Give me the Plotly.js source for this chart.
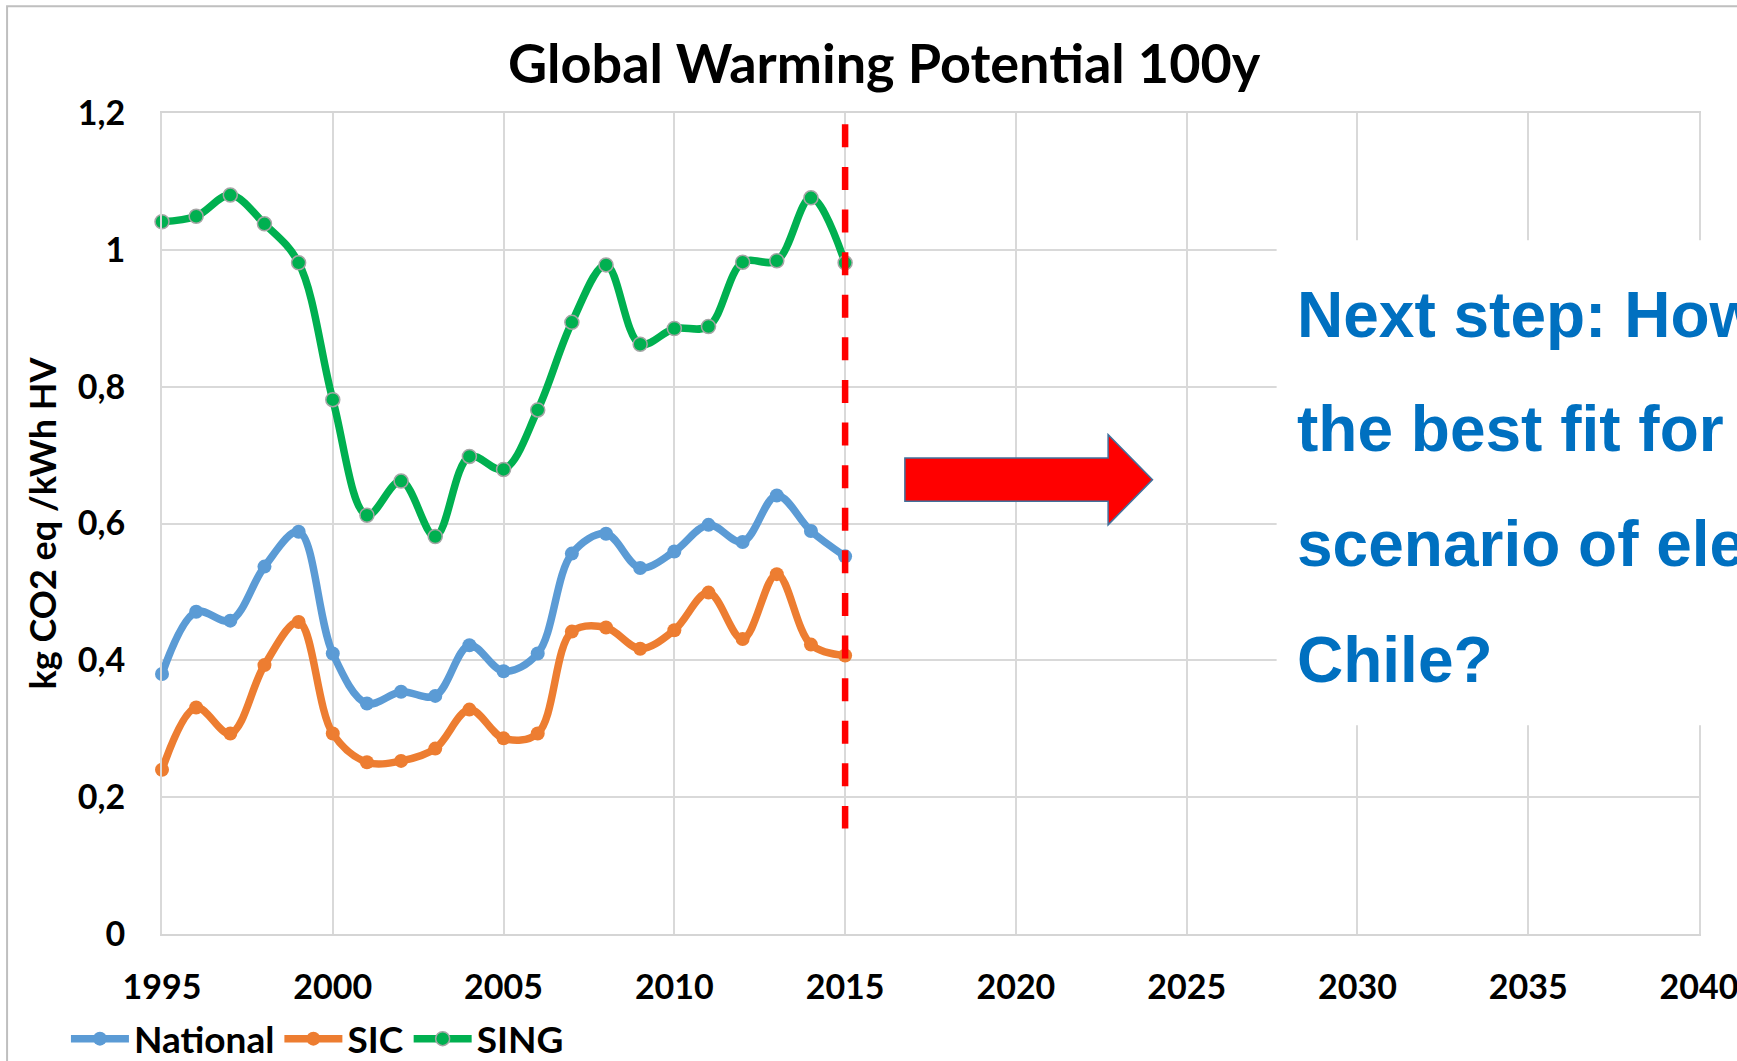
<!DOCTYPE html>
<html>
<head>
<meta charset="utf-8">
<script src="https://cdn.plot.ly/plotly-3.0.1.min.js"></script>
<style>
  html, body { margin: 0; padding: 0; overflow: hidden; background: #ffffff; }
  #chart { width: 1737px; height: 1061px; }
</style>
</head>
<body>
<div id="chart"></div>
<script>
// ---- Data ----
const years = [1995, 1996, 1997, 1998, 1999, 2000, 2001, 2002, 2003, 2004, 2005,
               2006, 2007, 2008, 2009, 2010, 2011, 2012, 2013, 2014, 2015];
const national = [0.380, 0.471, 0.458, 0.537, 0.588, 0.410, 0.337, 0.354, 0.348, 0.422, 0.384,
                  0.410, 0.556, 0.585, 0.535, 0.559, 0.598, 0.573, 0.641, 0.589, 0.552];
const sic = [0.240, 0.331, 0.293, 0.393, 0.456, 0.293, 0.251, 0.253, 0.271, 0.328, 0.286,
             0.293, 0.442, 0.448, 0.417, 0.444, 0.499, 0.431, 0.526, 0.423, 0.407];
const sing = [1.041, 1.049, 1.080, 1.038, 0.981, 0.781, 0.612, 0.662, 0.581, 0.698, 0.679,
              0.766, 0.894, 0.978, 0.862, 0.885, 0.888, 0.982, 0.984, 1.076, 0.981];
const seriesNames = ['National', 'SIC', 'SING'];
const xTicks = [1995, 2000, 2005, 2010, 2015, 2020, 2025, 2030, 2035, 2040];
const yTicks = [0, 0.2, 0.4, 0.6, 0.8, 1.0, 1.2];
const titleText = 'Global Warming Potential 100y';
const yTitleText = 'kg CO2 eq /kWh HV';
const noteLines = ['Next step: How', 'the best fit for', 'scenario of electricity', 'Chile?'];
const cutoffYear = 2015;

// ---- Styling ----
const calibriLike = 'Lato, "Open Sans", sans-serif';
const arialLike = '"Liberation Sans", Arial, sans-serif';
const colors = { National: '#5B9BD5', SIC: '#ED7D31', SING: '#00B050' };

function series(name, ys, extraMarker) {
  return {
    x: years, y: ys, name: name, type: 'scatter', mode: 'lines+markers',
    line: { color: colors[name], width: 7.5, shape: 'spline', smoothing: 1 },
    marker: Object.assign({ size: 14, color: colors[name], symbol: 'circle' }, extraMarker || {}),
    hoverinfo: 'skip', cliponaxis: false
  };
}

const traces = [
  series(seriesNames[0], national),
  series(seriesNames[1], sic),
  series(seriesNames[2], sing, { size: 14, line: { color: '#A5A5A5', width: 1.5 } })
];

// note lines (blue text) placed in paper coordinates
const noteY = [0.7534, 0.6145, 0.4745, 0.3332];
const annotations = noteLines.map((t, i) => ({
  text: t, xref: 'paper', yref: 'paper', x: 0.7372, y: noteY[i],
  xanchor: 'left', yanchor: 'middle', showarrow: false, align: 'left',
  font: { family: arialLike, size: 64, weight: 'bold', color: '#0070C0' }
}));

const shapes = [
  // outer chart border
  { type: 'rect', xref: 'paper', yref: 'paper', x0: -0.1008, x1: 1.5, y0: -0.6, y1: 1.1300,
    line: { color: '#BFBFBF', width: 2 }, fillcolor: 'rgba(0,0,0,0)', layer: 'below' },
  // white box behind the note text
  { type: 'rect', xref: 'paper', yref: 'paper', x0: 0.7252, x1: 1.2, y0: 0.2544, y1: 0.8450,
    line: { width: 0 }, fillcolor: '#FFFFFF', layer: 'above' },
  // red dashed vertical line at cutoff year
  { type: 'line', xref: 'x', yref: 'y', x0: cutoffYear, x1: cutoffYear, y0: 1.1834, y1: 0.1542,
    line: { color: '#FF0000', width: 6.5, dash: '23px,19.6px' }, layer: 'above' },
  // red arrow
  { type: 'path', xref: 'x', yref: 'y', layer: 'above',
    path: 'M2016.75,0.6958 L2022.70,0.6958 L2022.70,0.7298 L2024.00,0.6641 L2022.70,0.5980 L2022.70,0.6324 L2016.75,0.6324 Z',
    fillcolor: '#FF0000', line: { color: '#41719C', width: 1.5 } }
];

const layout = {
  width: 1737, height: 1061,
  margin: { l: 162.3, r: 37.8, t: 112.7, b: 127.1, pad: 0, autoexpand: false },
  paper_bgcolor: '#FFFFFF', plot_bgcolor: '#FFFFFF',
  separators: ',.',
  showlegend: true,
  title: {
    text: titleText, xref: 'container', yref: 'container', x: 0.509, y: 0.9397,
    xanchor: 'center', yanchor: 'middle',
    font: { family: calibriLike, size: 54, weight: 'bold', color: '#000000' }
  },
  xaxis: {
    range: [1995, 2040], tickmode: 'array', tickvals: xTicks, ticktext: xTicks.map(String),
    showgrid: true, gridcolor: '#D9D9D9', gridwidth: 2, zeroline: false,
    showline: true, mirror: true, linecolor: '#D5D5D5', linewidth: 2,
    ticks: '', ticklabelstandoff: 22, ticklabeloverflow: 'allow',
    tickfont: { family: calibriLike, size: 34, weight: 'bold', color: '#000000' },
    fixedrange: true, automargin: false
  },
  yaxis: {
    range: [0, 1.2], tickmode: 'array', tickvals: yTicks,
    showgrid: true, gridcolor: '#D9D9D9', gridwidth: 2, zeroline: false,
    showline: true, mirror: true, linecolor: '#D9D9D9', linewidth: 2,
    ticks: '', ticklabelstandoff: 28,
    tickfont: { family: calibriLike, size: 34, weight: 'bold', color: '#000000' },
    title: { text: yTitleText, standoff: 10,
             font: { family: calibriLike, size: 36, weight: 'bold', color: '#000000' } },
    fixedrange: true, automargin: false
  },
  legend: {
    orientation: 'h', x: -0.0625, y: -0.128, xanchor: 'left', yanchor: 'middle',
    itemwidth: 58, tracegroupgap: 0,
    font: { family: calibriLike, size: 37, weight: 'bold', color: '#000000' },
    bgcolor: 'rgba(0,0,0,0)', itemclick: false, itemdoubleclick: false
  },
  shapes: shapes,
  annotations: annotations,
  hovermode: false
};

Plotly.newPlot('chart', traces, layout, { displayModeBar: false, staticPlot: true });
</script>
</body>
</html>
